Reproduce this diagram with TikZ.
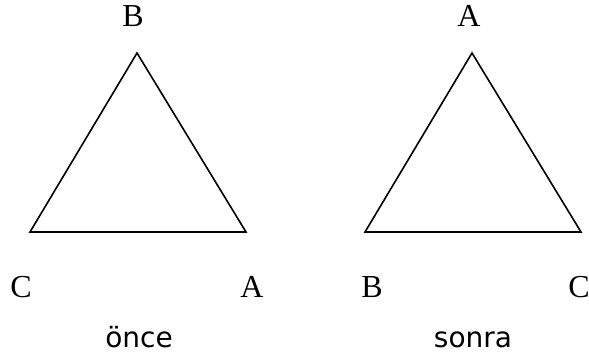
\documentclass[tikz,border=0pt]{standalone}
\usepackage{fontspec}
\setmainfont{Liberation Serif}
\newfontfamily\labfont{DejaVu Sans}
\begin{document}
\begin{tikzpicture}[x=1pt,y=-1pt,
  tri/.style={draw=black,line width=1.6pt,line join=miter},
  vlab/.style={inner sep=0pt,anchor=base,font=\fontsize{32}{34}\selectfont},
  captxt/.style={inner sep=0pt,anchor=base,font=\labfont\fontsize{28}{32}\selectfont}]
\useasboundingbox[fill=white] (0,0) rectangle (589,356);
% left triangle
\coordinate (lt) at (137,53);
\coordinate (ll) at (30,232);
\coordinate (lr) at (246,232);
\draw[tri] (lt) -- (ll) -- (lr) -- cycle;
\node[vlab] (lB) at (133,26) {B};
\node[vlab] (lC) at (21,297) {C};
\node[vlab] (lA) at (252,297) {A};
\node[captxt] (once) at (139,347) {önce};
% right triangle
\coordinate (rt) at (472,53);
\coordinate (rl) at (365,232);
\coordinate (rr) at (581,232);
\draw[tri] (rt) -- (rl) -- (rr) -- cycle;
\node[vlab] (rA) at (469,26) {A};
\node[vlab] (rB) at (372,297) {B};
\node[vlab] (rC) at (579,297) {C};
\node[captxt] (sonra) at (473,347) {sonra};
\end{tikzpicture}
\end{document}
